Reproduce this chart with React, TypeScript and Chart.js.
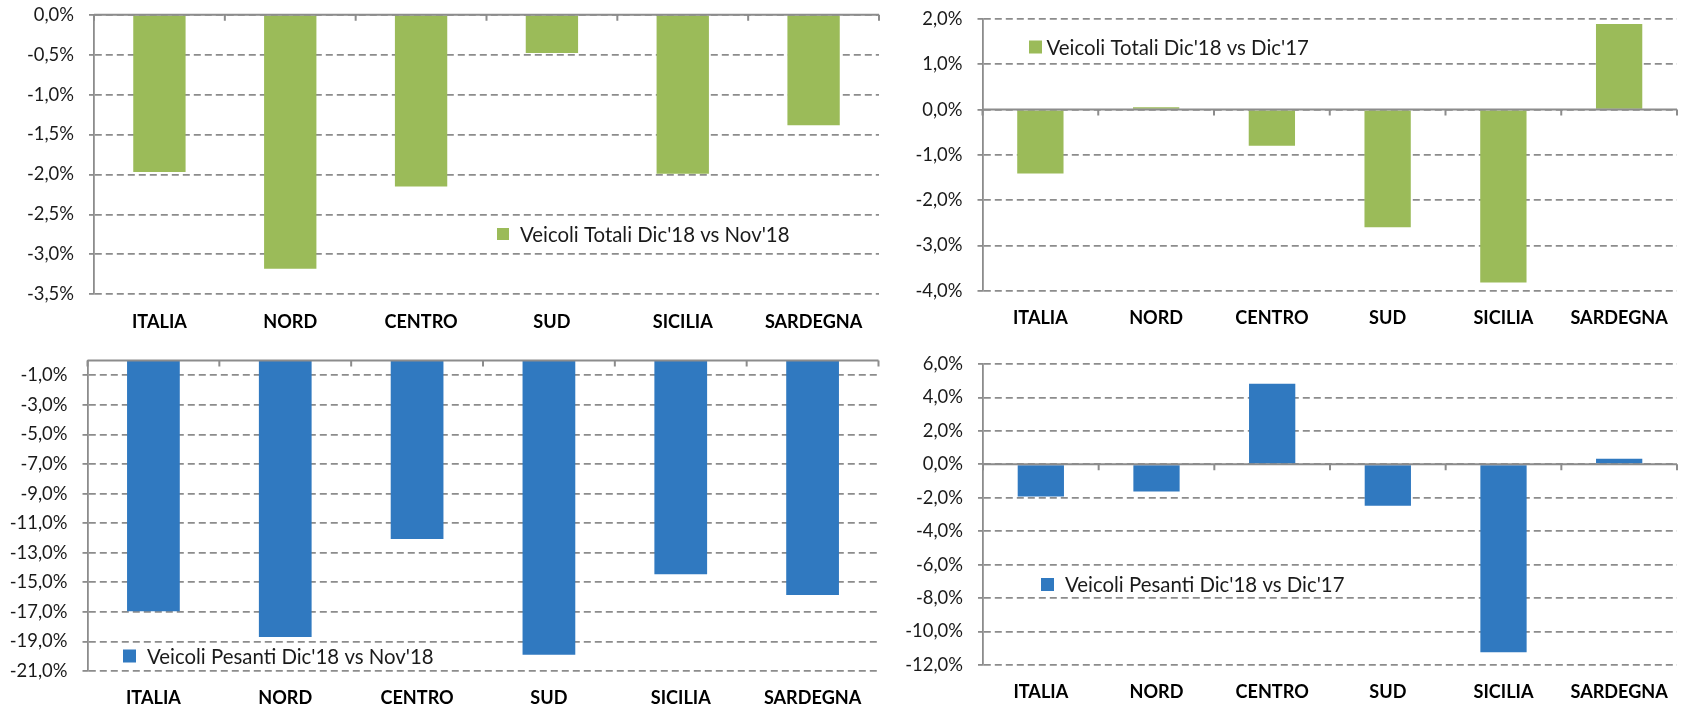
import React, { useEffect, useRef } from 'react';
import { Chart, registerables } from 'chart.js';

Chart.register(...registerables);

const categories = ['ITALIA', 'NORD', 'CENTRO', 'SUD', 'SICILIA', 'SARDEGNA'];

const totaliNovLabel = "Veicoli Totali Dic'18 vs Nov'18";
const totaliNovValues = [-1.97, -3.18, -2.15, -0.48, -1.99, -1.385];
const totaliNovTicks = [0, -0.5, -1, -1.5, -2, -2.5, -3, -3.5];

const totaliDicLabel = "Veicoli Totali Dic'18 vs Dic'17";
const totaliDicValues = [-1.41, 0.05, -0.8, -2.6, -3.82, 1.89];
const totaliDicTicks = [2, 1, 0, -1, -2, -3, -4];

const pesantiNovLabel = "Veicoli Pesanti Dic'18 vs Nov'18";
const pesantiNovValues = [-16.96, -18.7, -12.07, -19.9, -14.46, -15.86];
const pesantiNovTicks = [-1, -3, -5, -7, -9, -11, -13, -15, -17, -19, -21];

const pesantiDicLabel = "Veicoli Pesanti Dic'18 vs Dic'17";
const pesantiDicValues = [-1.93, -1.63, 4.82, -2.47, -11.24, 0.34];
const pesantiDicTicks = [6, 4, 2, 0, -2, -4, -6, -8, -10, -12];

const GREEN = '#9BBB59';
const BLUE = '#3079C0';
const GRID = '#8C8C8C';
const FONT = "Lato, 'Noto Sans', sans-serif";

// pick a font size so that a sample string reaches the width seen in the reference
function fitSize(samples: [string, number][], weight: string): number {
  const c = document.createElement('canvas');
  const ctx = c.getContext('2d')!;
  ctx.font = `${weight} 100px ${FONT}`;
  let sum = 0;
  samples.forEach(([t, w]) => {
    sum += (w / ctx.measureText(t).width) * 100;
  });
  return Math.round((sum / samples.length) * 10) / 10;
}

type Spec = {
  left: number; top: number; width: number; height: number;
  values: number[]; ticks: number[]; label: string; color: string;
  area: { left: number; right: number; top: number; bottom: number };
  catCenter: number;
  legend: { sx: number; sy: number; size: number; tx: number };
};

const specs: Spec[] = [
  {
    left: 0, top: 0, width: 880, height: 340,
    values: totaliNovValues, ticks: totaliNovTicks, label: totaliNovLabel, color: GREEN,
    area: { left: 94, right: 879, top: 14.7, bottom: 294.3 }, catCenter: 322,
    legend: { sx: 497, sy: 234, size: 12, tx: 520 },
  },
  {
    left: 880, top: 0, width: 803, height: 340,
    values: totaliDicValues, ticks: totaliDicTicks, label: totaliDicLabel, color: GREEN,
    area: { left: 102.5, right: 797, top: 19, bottom: 290.7 }, catCenter: 317.7,
    legend: { sx: 149, sy: 47, size: 13, tx: 166.5 },
  },
  {
    left: 0, top: 340, width: 880, height: 369,
    values: pesantiNovValues, ticks: pesantiNovTicks, label: pesantiNovLabel, color: BLUE,
    area: { left: 87.5, right: 878.5, top: 20.5, bottom: 331 }, catCenter: 358.3,
    legend: { sx: 123, sy: 316, size: 13, tx: 147 },
  },
  {
    left: 880, top: 340, width: 803, height: 369,
    values: pesantiDicValues, ticks: pesantiDicTicks, label: pesantiDicLabel, color: BLUE,
    area: { left: 103, right: 797, top: 24, bottom: 325 }, catCenter: 352.3,
    legend: { sx: 161, sy: 244.5, size: 13, tx: 185 },
  },
];

const fmt = (v: number) => {
  const s = Math.abs(v) < 1e-9 ? '0,0' : v.toFixed(1).replace('.', ',');
  return s + '%';
};

function BarPanel({ spec }: { spec: Spec }) {
  const ref = useRef<HTMLCanvasElement | null>(null);
  useEffect(() => {
    if (!ref.current) return;
    const a = spec.area;
    const tickSize = fitSize([['2,0%', 41], ['-12,0%', 56.7]], 'normal');
    const catSize = fitSize([['SARDEGNA', 98.4], ['ITALIA', 55], ['SICILIA', 59.7]], 'bold');
    const legSize = fitSize([["Veicoli Totali Dic'18 vs Nov'18", 270]], 'normal');
    const catLine = catSize * 1.2;
    const catPad = spec.catCenter - a.bottom - catLine / 2;

    const zeroAxis = {
      id: 'zeroAxis',
      afterDatasetsDraw(chart: any) {
        const { ctx, chartArea, scales } = chart;
        const y = scales.y.getPixelForValue(0);
        const xs = scales.x;
        ctx.save();
        ctx.strokeStyle = GRID;
        ctx.lineWidth = 2;
        ctx.setLineDash([]);
        ctx.beginPath();
        ctx.moveTo(chartArea.left, y);
        ctx.lineTo(chartArea.right, y);
        const step = xs.getPixelForValue(1) - xs.getPixelForValue(0);
        const start = xs.getPixelForValue(0) - step / 2;
        for (let i = 0; i <= categories.length; i++) {
          const x = start + i * step;
          ctx.moveTo(x, y);
          ctx.lineTo(x, y + 6);
        }
        ctx.stroke();
        ctx.restore();
      },
    };
    const legendPlugin = {
      id: 'posLegend',
      afterDraw(chart: any) {
        const { ctx } = chart;
        const ds = chart.data.datasets[0];
        const L = spec.legend;
        ctx.save();
        ctx.fillStyle = ds.backgroundColor;
        ctx.fillRect(L.sx, L.sy - L.size / 2, L.size, L.size);
        ctx.fillStyle = '#1a1a1a';
        ctx.font = `${legSize}px ${FONT}`;
        ctx.textBaseline = 'middle';
        ctx.textAlign = 'left';
        ctx.fillText(ds.label, L.tx, L.sy + 1);
        ctx.restore();
      },
    };
    const chart = new Chart(ref.current, {
      type: 'bar',
      data: {
        labels: categories,
        datasets: [
          {
            label: spec.label,
            data: spec.values,
            backgroundColor: spec.color,
            barPercentage: 0.4,
            categoryPercentage: 1,
          },
        ],
      },
      options: {
        animation: false,
        responsive: false,
        maintainAspectRatio: false,
        layout: {
          padding: { top: a.top, right: spec.width - a.right, left: 0, bottom: 0 },
        },
        plugins: {
          legend: { display: false },
          tooltip: { enabled: false },
          title: { display: false },
        },
        scales: {
          x: {
            type: 'category',
            position: 'bottom',
            grid: { display: false, drawTicks: false },
            border: { display: false },
            ticks: {
              color: '#000',
              font: { family: FONT, size: catSize, weight: 'bold', lineHeight: 1.2 },
              padding: catPad,
              maxRotation: 0,
              autoSkip: false,
            },
            afterFit(scale: any) {
              scale.height = spec.height - a.bottom;
              scale.paddingLeft = 0;
              scale.paddingRight = 0;
            },
          },
          y: {
            type: 'linear',
            min: Math.min(...spec.ticks),
            max: Math.max(...spec.ticks, 0),
            afterBuildTicks(scale: any) {
              scale.ticks = spec.ticks.map((v) => ({ value: v })).reverse();
            },
            afterFit(scale: any) {
              scale.width = a.left;
              scale.paddingTop = 0;
              scale.paddingBottom = 0;
            },
            grid: {
              color: GRID,
              lineWidth: 1.8,
              drawTicks: true,
              tickLength: 5,
              tickColor: GRID,
              tickWidth: 1.8,
            },
            border: { display: true, color: GRID, width: 1.8, dash: [7, 4] },
            ticks: {
              color: '#1a1a1a',
              font: { family: FONT, size: tickSize },
              padding: 15,
              callback: (v: any) => fmt(Number(v)),
            },
          },
        },
      } as any,
      plugins: [zeroAxis, legendPlugin],
    });
    return () => chart.destroy();
  }, [spec]);
  return (
    <canvas
      ref={ref}
      width={spec.width}
      height={spec.height}
      style={{ position: 'absolute', left: spec.left, top: spec.top, width: spec.width, height: spec.height }}
    />
  );
}

export default function App() {
  return (
    <div style={{ position: 'absolute', left: 0, top: 0, width: 1683, height: 709, background: '#fff', overflow: 'hidden' }}>
      {specs.map((s, i) => (
        <BarPanel key={i} spec={s} />
      ))}
    </div>
  );
}
